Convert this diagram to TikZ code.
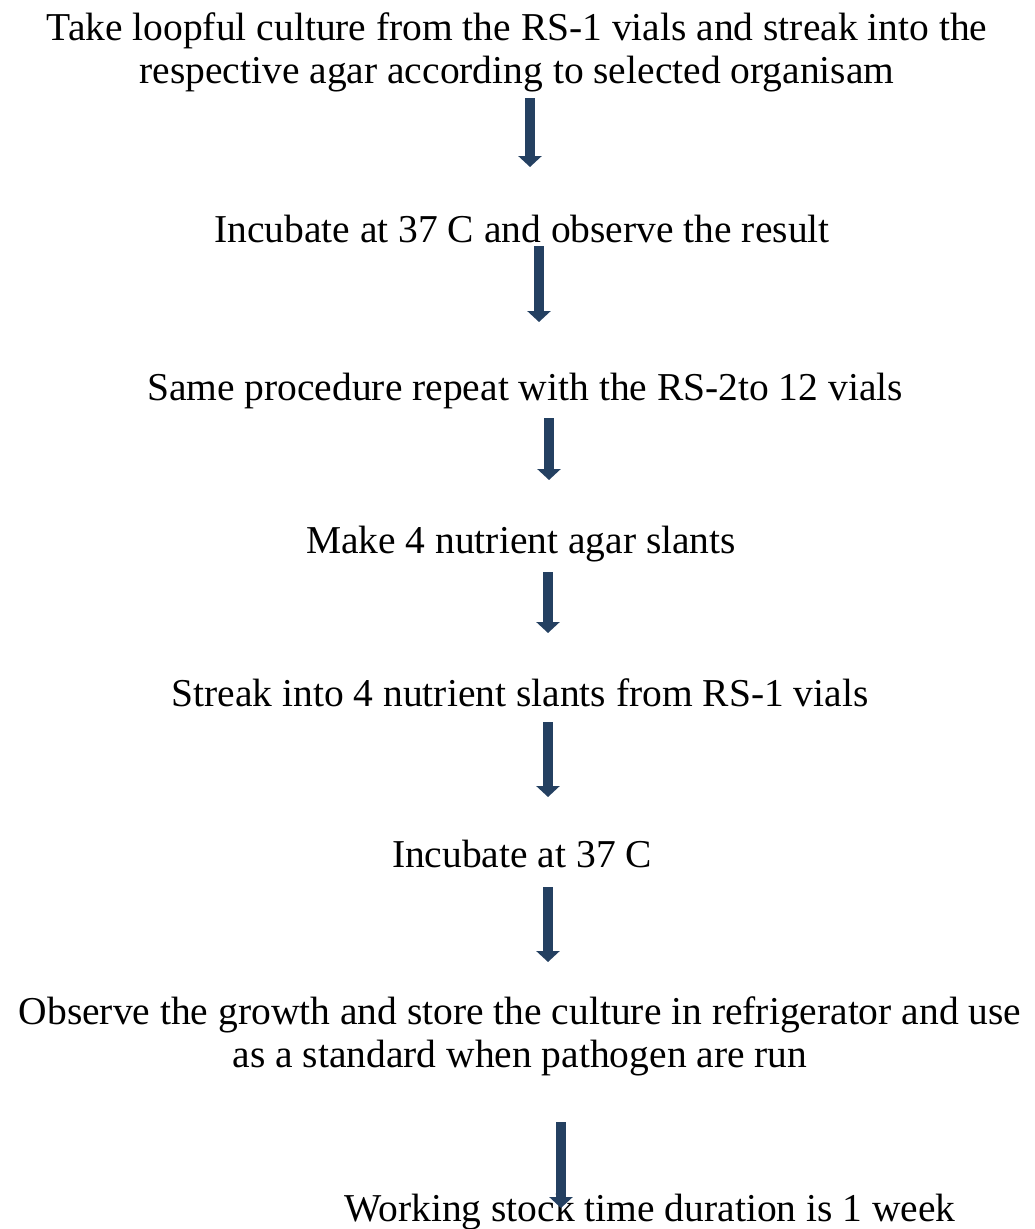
\documentclass[tikz,border=0pt]{standalone}
\usepackage{fontspec}
\setmainfont{Liberation Serif}
\usetikzlibrary{arrows.meta}

\definecolor{arrowblue}{RGB}{36,64,97}

\tikzset{
  steptext/.style={anchor=base, inner sep=0pt, align=center,
    font=\fontsize{39.5}{42.5}\selectfont},
  downarrow/.style={draw=arrowblue, line width=10pt,
    -{Triangle[width=23pt 0 0, length=11pt 0 0, fill=arrowblue]}}
}

\begin{document}
\begin{tikzpicture}[x=1pt, y=-1pt]

\useasboundingbox (0,0) rectangle (1035,1229);

% Les etapes (base = ligne de base de la derniere ligne)
\node[steptext] (take) at (517, 83) {Take loopful culture from the RS-1 vials and streak into the\\respective agar according to selected organisam};
\node[steptext] (incres) at (522, 242) {Incubate at 37 C and observe the result};
\node[steptext] (same) at (525, 400) {Same procedure repeat with the RS-2to 12 vials};
\node[steptext] (make) at (521, 553) {Make 4 nutrient agar slants};
\node[steptext] (streak) at (520, 706) {Streak into 4 nutrient slants from RS-1 vials};
\node[steptext] (inc) at (522, 867) {Incubate at 37 C};
\node[steptext] (observe) at (520, 1067) {Observe the growth and store the culture in refrigerator and use\\as a standard when pathogen are run};
\node[steptext] (working) at (650, 1221) {Working stock time duration is 1 week};

% Points des fleches
\coordinate (a1top) at (530, 98);   \coordinate (a1tip) at (530, 167);
\coordinate (a2top) at (539, 246);  \coordinate (a2tip) at (539, 322);
\coordinate (a3top) at (549, 418);  \coordinate (a3tip) at (549, 480);
\coordinate (a4top) at (548, 572);  \coordinate (a4tip) at (548, 633);
\coordinate (a5top) at (548, 722);  \coordinate (a5tip) at (548, 797);
\coordinate (a6top) at (548, 887);  \coordinate (a6tip) at (548, 962);
\coordinate (a7top) at (561, 1122); \coordinate (a7tip) at (561, 1208);

% Fleches
\draw[downarrow] (a1top) -- (a1tip);
\draw[downarrow] (a2top) -- (a2tip);
\draw[downarrow] (a3top) -- (a3tip);
\draw[downarrow] (a4top) -- (a4tip);
\draw[downarrow] (a5top) -- (a5tip);
\draw[downarrow] (a6top) -- (a6tip);
\draw[downarrow] (a7top) -- (a7tip);

\end{tikzpicture}
\end{document}
